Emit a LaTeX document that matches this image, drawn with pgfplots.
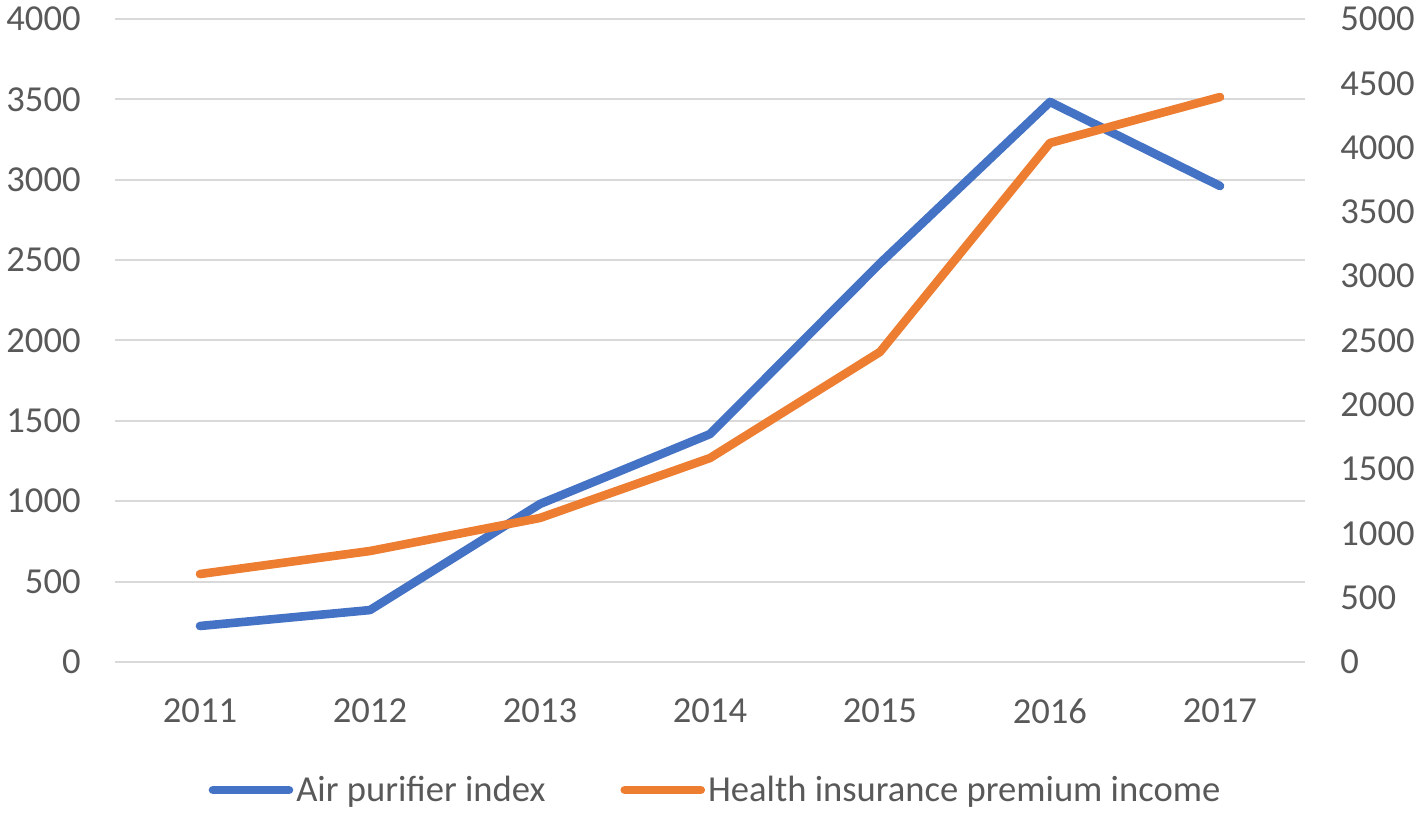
\documentclass[border=0pt]{standalone}
\usepackage{pgfplots}
\pgfplotsset{compat=1.18}
\usetikzlibrary{calc}
\usepackage{fontspec}
\setmainfont{Carlito}
\definecolor{cblue}{HTML}{4472C4}
\definecolor{corange}{HTML}{ED7D31}
\definecolor{ctext}{HTML}{595959}
\definecolor{cgrid}{HTML}{D9D9D9}
\begin{document}
\begin{tikzpicture}
\pgfplotsset{
  base/.style={
    scale only axis, width=595pt, height=321.5pt,
    xmin=2010.5, xmax=2017.5,
    axis line style={draw=none},
    major tick length=0pt,
    tick label style={font=\fontsize{18.3}{21}\selectfont, text=ctext, inner sep=0pt},
    /pgf/number format/assume math mode=true,
    /pgf/number format/1000 sep={},
    xtick={2011,...,2017},
  }
}
\begin{axis}[base,
  ymin=0, ymax=4000, ytick={0,500,...,4000},
  ymajorgrids, grid style={cgrid, line width=1pt},
  yticklabel style={anchor=east, xshift=-17pt},
  xticklabel style={anchor=north, yshift=-18pt},
]
\coordinate (sw) at (rel axis cs:0,0);
\coordinate (ne) at (rel axis cs:1,1);
\addplot[cblue, line width=4.3pt, line join=round, line cap=round] coordinates {
(2011,224) (2012,323) (2013,983) (2014,1418) (2015,2480) (2016,3484) (2017,2961)};
\end{axis}
\begin{axis}[base,
  ymin=0, ymax=5000, ytick={0,500,...,5000},
  axis y line*=right, axis x line=none,
  yticklabel style={anchor=west, xshift=17.5pt},
  legend style={at={(0.5,0)}, anchor=center, yshift=-64pt, xshift=3pt, draw=none, fill=none,
    font=\fontsize{18.3}{21}\selectfont, text=ctext, legend columns=2,
    nodes={inner xsep=1.5pt},
    /tikz/every even column/.append style={column sep=36pt}},
  legend cell align=left,
  legend image code/.code={\draw[#1, line cap=round] (0pt,0pt) -- (38pt,0pt);},
]
\addlegendimage{cblue, line width=4.3pt}
\addlegendentry{Air purifier index}
\addplot[corange, line width=4.3pt, line join=round, line cap=round] coordinates {
(2011,684) (2012,863) (2013,1120) (2014,1586) (2015,2411) (2016,4036) (2017,4393)};
\addlegendentry{Health insurance premium income}
\end{axis}
\pgfresetboundingbox
\path ($(sw)+(-57.5pt,-76.5pt)$) rectangle ($(ne)+(56.5pt,9.5pt)$);
\end{tikzpicture}
\end{document}
